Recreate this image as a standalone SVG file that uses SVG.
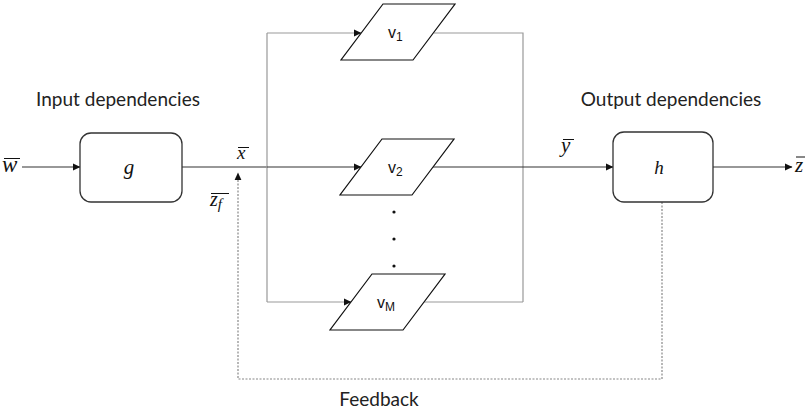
<svg xmlns="http://www.w3.org/2000/svg" width="806" height="413" viewBox="0 0 806 413">
<style>
.lbl{font-family:Lato,"Open Sans",sans-serif;font-size:19px;fill:#222}
.math{font-family:"Liberation Serif",serif;font-style:italic;fill:#111}
.box{fill:#fff;stroke:#333;stroke-width:1.3}
.par{fill:#fff;stroke:#111;stroke-width:1.2}
.vt{font-family:"Liberation Sans",sans-serif;font-size:16px;fill:#111}
.bus{fill:none;stroke:#999;stroke-width:1.2}
.ln{fill:none;stroke:#333;stroke-width:1.2}
.dash{fill:none;stroke:#888;stroke-width:1.2;stroke-dasharray:2 1.5}
.ob{stroke:#111;stroke-width:1}
</style>
<defs>
<marker id="ah" markerWidth="8" markerHeight="8" refX="7" refY="4" orient="auto" markerUnits="userSpaceOnUse">
<path d="M0,0.6 L7.5,4 L0,7.4 Z" fill="#111"/>
</marker>
</defs>
<rect width="806" height="413" fill="#fff"/>
<g id="connectors">
<line class="ln" x1="22" y1="167" x2="80" y2="167" marker-end="url(#ah)"/>
<line class="ln" x1="182" y1="167" x2="267" y2="167"/>
<path class="bus" d="M267,33 L267,302 M267,33 L361,33 M434,33 L523,33 L523,302 M267,302 L351,302 M423,302 L523,302"/>
<line class="ln" x1="267" y1="167" x2="361" y2="167" marker-end="url(#ah)"/>
<line class="ln" x1="433" y1="167" x2="613" y2="167" marker-end="url(#ah)"/>
<line x1="340" y1="33" x2="361" y2="33" stroke="none" marker-end="url(#ah)"/>
<line x1="330" y1="302" x2="351" y2="302" stroke="none" marker-end="url(#ah)"/>
<line class="ln" x1="713" y1="167" x2="792" y2="167" marker-end="url(#ah)"/>
<path class="dash" d="M662,202 L662,379 L238,379 L238,175"/>
<line x1="238" y1="190" x2="238" y2="173" stroke="none" marker-end="url(#ah)"/>
</g>
<g id="g-node">
<rect class="box" x="80" y="133" width="102" height="69" rx="11"/>
<text class="math" x="129" y="174" font-size="21" text-anchor="middle">g</text>
</g>
<g id="h-node">
<rect class="box" x="613" y="132" width="100" height="70" rx="11"/>
<text class="math" x="659" y="174" font-size="19" text-anchor="middle">h</text>
</g>
<g id="v1">
<polygon class="par" points="383,4 455,4 413,60 341,60"/>
<text class="vt" x="388" y="38">v<tspan font-size="12" dy="3">1</tspan></text>
</g>
<g id="v2">
<polygon class="par" points="382,139 454,139 412,195 340,195"/>
<text class="vt" x="388" y="173">v<tspan font-size="12" dy="3">2</tspan></text>
</g>
<g id="vM">
<polygon class="par" points="372,274 445,274 403,330 330,330"/>
<text class="vt" x="377" y="308">v<tspan font-size="12" dy="3">M</tspan></text>
</g>
<g id="dots" fill="#111">
<circle cx="394" cy="212" r="1.6"/>
<circle cx="394" cy="239" r="1.6"/>
<circle cx="394" cy="266" r="1.6"/>
</g>
<g id="labels">
<text class="lbl" x="118" y="106" text-anchor="middle">Input dependencies</text>
<text class="lbl" x="671" y="106" text-anchor="middle">Output dependencies</text>
<text class="lbl" x="379" y="406" text-anchor="middle">Feedback</text>
<text class="math" x="2" y="172" font-size="23">w</text>
<line class="ob" x1="4" y1="158.5" x2="20" y2="158.5"/>
<text class="math" x="237" y="159" font-size="19">x</text>
<line class="ob" x1="238" y1="147.5" x2="249" y2="147.5"/>
<text class="math" x="561" y="152" font-size="21">y</text>
<line class="ob" x1="563" y1="139.5" x2="574" y2="139.5"/>
<text class="math" x="795" y="172" font-size="21">z</text>
<line class="ob" x1="796" y1="157" x2="805" y2="157"/>
<text class="math" x="210" y="206" font-size="20">z<tspan font-size="15" dy="3">f</tspan></text>
<line class="ob" x1="211" y1="193.5" x2="229" y2="193.5"/>
</g>
</svg>
